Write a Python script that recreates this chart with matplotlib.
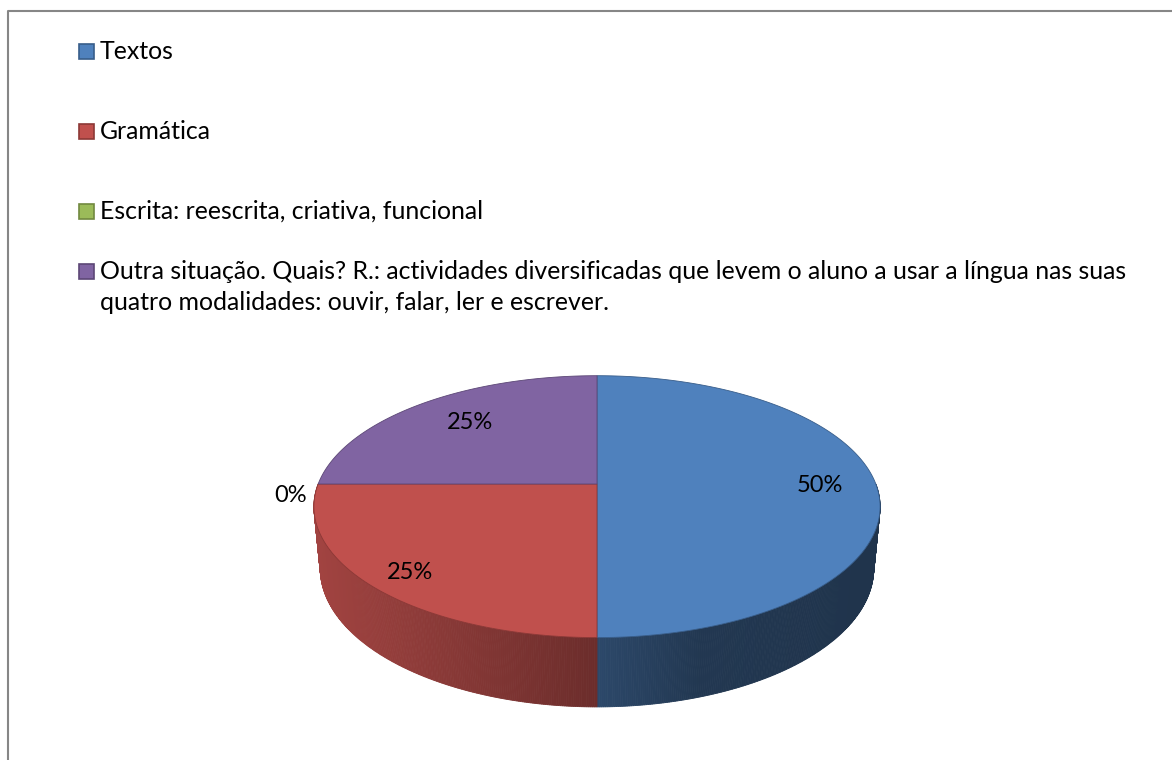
import numpy as np
import matplotlib.pyplot as plt
from matplotlib.patches import Polygon, Rectangle

# dados do gráfico
categorias = ['Textos', 'Gramática', 'Escrita: reescrita, criativa, funcional',
              'Outra situação. Quais? R.: actividades diversificadas que levem o aluno a usar a língua nas suas\nquatro modalidades: ouvir, falar, ler e escrever.']
valores = [50, 25, 0, 25]
cores = ['#4F81BD', '#C0504D', '#9BBB59', '#8064A2']
bordas = ['#385D8A', '#8C3836', '#71893F', '#5C4776']

plt.rcParams['font.family'] = ['Lato', 'DejaVu Sans']

fig = plt.figure(figsize=(11.72, 7.6), dpi=100)
ax = fig.add_axes([0, 0, 1, 1])
ax.set_xlim(0, 1172)
ax.set_ylim(760, 0)
ax.axis('off')

# moldura (só esquerda e topo visíveis)
ax.plot([8, 8, 1172], [760, 11, 11], color='#868686', lw=1.5, solid_capstyle='butt')

# legenda
leg_base = [59, 139, 219, 279]
for i, cat in enumerate(categorias):
    ax.add_patch(Rectangle((79, leg_base[i] - 15.5), 15, 15, facecolor=cores[i],
                           edgecolor=bordas[i], lw=1.2))
    for k, linha in enumerate(cat.split('\n')):
        ax.text(100, leg_base[i] + 31 * k, linha, fontsize=17.9,
                va='baseline', ha='left')

# projeção em perspectiva do disco 3D
cx, cy = 597, 484
phi = np.radians(27.1)
c, s = np.cos(phi), np.sin(phi)
D = 5.15
f = 1436
h = 0.251


def proj(X, Z, Y):
    yv = Y * c + Z * s
    d = D + Z * c - Y * s
    return cx + f * X / d, cy - f * yv / d


def fator(px):
    return np.interp(px, [315, 597, 700, 880], [0.84, 0.56, 0.43, 0.40])


fr = np.array(valores) / sum(valores)
fim = np.cumsum(fr) * 360
ini = fim - fr * 360

# faces laterais (apenas a metade da frente)
for i in range(len(valores)):
    a, b = max(ini[i], 90), min(fim[i], 270)
    if b <= a:
        continue
    th = np.radians(np.linspace(a, b, 240))
    X, Z = np.sin(th), np.cos(th)
    tx, ty = proj(X, Z, 0)
    bx, by = proj(X, Z, -h)
    base = np.array(plt.matplotlib.colors.to_rgb(cores[i]))
    for k in range(len(th) - 1):
        col = np.clip(base * fator(0.5 * (tx[k] + tx[k + 1])), 0, 1)
        quad = [(tx[k], ty[k]), (tx[k + 1], ty[k + 1]),
                (bx[k + 1], by[k + 1]), (bx[k], by[k])]
        ax.add_patch(Polygon(quad, closed=True, facecolor=col, edgecolor=col,
                             lw=0.6, zorder=2))

# faces de cima
for i in range(len(valores)):
    if valores[i] == 0:
        continue
    th = np.radians(np.linspace(ini[i], fim[i], 200))
    px, py = proj(np.sin(th), np.cos(th), 0)
    pts = [(cx, cy)] + list(zip(px, py))
    ax.add_patch(Polygon(pts, closed=True, facecolor=cores[i],
                         edgecolor=bordas[i], lw=0.6, zorder=3))

# rótulos de percentagem
raio = [0.8, 0.85, 1.1, 0.7]
desloc = [1, 3, 12, -4]
for i in range(len(valores)):
    m = np.radians((ini[i] + fim[i]) / 2)
    lx, ly = proj(raio[i] * np.sin(m), raio[i] * np.cos(m), 0)
    ax.text(lx, ly + desloc[i], f'{valores[i]}%', fontsize=17,
            ha='center', va='center', zorder=5)

fig.savefig('out.png', dpi=100)
